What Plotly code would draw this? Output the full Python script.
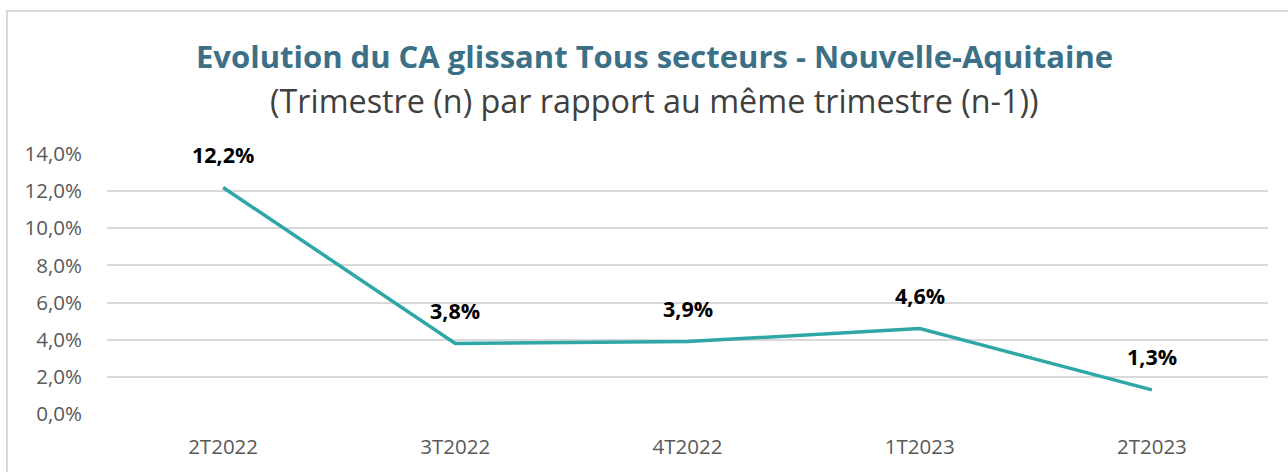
import plotly.graph_objects as go

categories = ["2T2022", "3T2022", "4T2022", "1T2023", "2T2023"]
values = [12.2, 3.8, 3.9, 4.6, 1.3]
tick_vals = [0, 2, 4, 6, 8, 10, 12, 14]
tick_text = ["0,0%", "2,0%", "4,0%", "6,0%", "8,0%", "10,0%", "12,0%", "14,0%"]
title = "Evolution du CA glissant Tous secteurs - Nouvelle-Aquitaine"
subtitle = "(Trimestre (n) par rapport au même trimestre (n-1))"

FONT = "Open Sans"
W, H = 1288, 472
L, R, T, B = 107, 20, 154, 56
pw, ph = W - L - R, H - T - B

def px(x):
    return (x - L) / pw

def py(y):
    return (H - B - y) / ph

fig = go.Figure()
fig.add_trace(go.Scatter(
    x=categories, y=values, mode="lines",
    line=dict(color="#2EA7A6", width=3.5),
    hoverinfo="skip", showlegend=False,
))

annotations = []
for c, v in zip(categories, values):
    annotations.append(dict(
        x=c, y=v, xref="x", yref="y",
        text="<b>" + f"{v:.1f}".replace(".", ",") + "%</b>",
        showarrow=False, yshift=33,
        font=dict(family=FONT, size=21.5, color="#000000"),
    ))
annotations.append(dict(
    x=px(654), y=py(55), xref="paper", yref="paper",
    text="<b>" + title + "</b>", showarrow=False,
    font=dict(family=FONT, size=31, color="#3C7087"),
    xanchor="center", yanchor="middle",
))
annotations.append(dict(
    x=px(654), y=py(100), xref="paper", yref="paper",
    text=subtitle, showarrow=False,
    font=dict(family=FONT, size=32.3, color="#404040"),
    xanchor="center", yanchor="middle",
))

fig.update_layout(
    width=W, height=H,
    margin=dict(l=L, r=R, t=T, b=B),
    paper_bgcolor="white", plot_bgcolor="white",
    annotations=annotations,
    shapes=[dict(
        type="rect", xref="paper", yref="paper",
        x0=px(7), x1=px(1295), y0=py(480), y1=py(10),
        line=dict(color="#D9D9D9", width=2), fillcolor="rgba(0,0,0,0)",
        layer="below",
    )],
    xaxis=dict(
        type="category", range=[-0.5, 4.5],
        showgrid=False, zeroline=False, showline=False,
        ticks="", tickfont=dict(family=FONT, size=20.5, color="#595959"),
        ticklabelstandoff=18,
    ),
    yaxis=dict(
        range=[0, 14], tickvals=tick_vals, ticktext=tick_text,
        showgrid=True, gridcolor="#D9D9D9", gridwidth=1.5,
        zeroline=False, showline=False, ticks="",
        tickfont=dict(family=FONT, size=20.5, color="#595959"),
        ticklabelstandoff=24,
    ),
)

fig.write_html("out.html")
